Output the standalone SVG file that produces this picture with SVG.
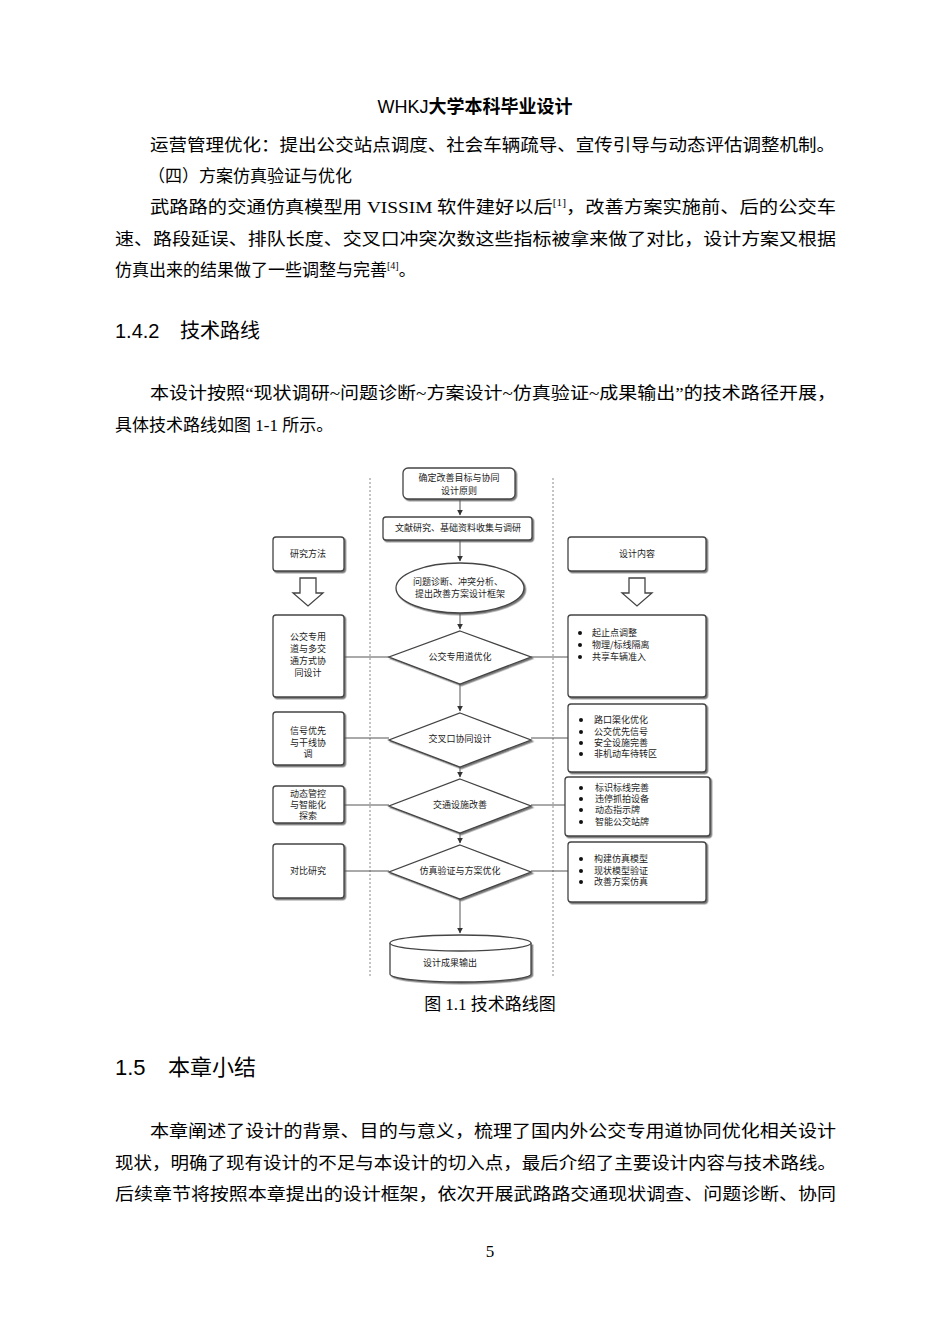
<svg xmlns="http://www.w3.org/2000/svg" width="950" height="1344" viewBox="0 0 950 1344">
<style>
.b{font-family:"Liberation Serif","Noto Sans CJK SC",serif;font-size:17px;fill:#000}
.h{font-family:"Liberation Sans","Noto Sans CJK SC",sans-serif;fill:#000}
.n{fill:#fff;stroke:#444;stroke-width:1.3}
.t{font-family:"Noto Sans CJK SC",sans-serif;font-size:9px;fill:#222;text-anchor:middle}
.tl{font-family:"Noto Sans CJK SC",sans-serif;font-size:9px;fill:#222}
.c{stroke:#555;stroke-width:1;fill:none}
.d{stroke:#888;stroke-width:1;stroke-dasharray:2,2;fill:none}
</style>
<defs>
<marker id="a" viewBox="0 0 10 10" refX="9" refY="5" markerWidth="6" markerHeight="6" orient="auto"><path d="M0,0L10,5L0,10z" fill="#333"/></marker>
<filter id="s" x="-10%" y="-10%" width="130%" height="140%"><feDropShadow dx="1.5" dy="1.5" stdDeviation="0.6" flood-color="#555" flood-opacity="0.8"/></filter>
</defs>
<rect width="950" height="1344" fill="#fff"/>
<text x="475" y="113" text-anchor="middle" class="h" style="font-family:'Liberation Sans Narrow','Liberation Sans','Noto Sans CJK SC',sans-serif;font-size:18px">WHKJ<tspan style="font-family:'Noto Sans CJK SC';font-weight:bold">大学本科毕业设计</tspan></text>
<text class="b" x="150" y="151" textLength="685" lengthAdjust="spacingAndGlyphs">运营管理优化：提出公交站点调度、社会车辆疏导、宣传引导与动态评估调整机制。</text>
<text class="b" x="148" y="182">（四）方案仿真验证与优化</text>
<text class="b" x="150" y="213" textLength="686" lengthAdjust="spacingAndGlyphs">武路路的交通仿真模型用 VISSIM 软件建好以后<tspan font-size="10" dy="-7">[1]</tspan><tspan dy="7">，改善方案实施前、后的公交车</tspan></text>
<text class="b" x="115" y="245" textLength="721" lengthAdjust="spacingAndGlyphs">速、路段延误、排队长度、交叉口冲突次数这些指标被拿来做了对比，设计方案又根据</text>
<text class="b" x="115" y="276">仿真出来的结果做了一些调整与完善<tspan font-size="10" dy="-7">[4]</tspan><tspan dy="7">。</tspan></text>
<text class="h" x="115" y="338" font-size="20">1.4.2<tspan x="180">技术路线</tspan></text>
<text class="b" x="150" y="399" textLength="686" lengthAdjust="spacingAndGlyphs">本设计按照“现状调研~问题诊断~方案设计~仿真验证~成果输出”的技术路径开展，</text>
<text class="b" x="115" y="431">具体技术路线如图 1-1 所示。</text>

<g id="connectors">
<path class="d" d="M370 478V978M553 478V978"/>
<path class="c" d="M460 499V515" marker-end="url(#a)"/>
<path class="c" d="M460 540V561" marker-end="url(#a)"/>
<path class="c" d="M460 613V629" marker-end="url(#a)"/>
<path class="c" d="M460 684V711" marker-end="url(#a)"/>
<path class="c" d="M460 767V777" marker-end="url(#a)"/>
<path class="c" d="M460 833V843" marker-end="url(#a)"/>
<path class="c" d="M460 899V933" marker-end="url(#a)"/>
<path class="c" d="M344 657H389M531 657H568M344 738H389M531 738H568M344 805H389M531 805H565M344 871H389M531 871H568"/>
</g>
<g id="n1"><rect class="n" filter="url(#s)" x="403" y="468" width="112" height="31" rx="5"/><text class="t" x="459" y="481">确定改善目标与协同</text><text class="t" x="459" y="494">设计原则</text></g>
<g id="n2"><rect class="n" filter="url(#s)" x="383" y="517" width="149" height="23" rx="3"/><text class="t" x="458" y="531">文献研究、基础资料收集与调研</text></g>
<g id="n3"><ellipse class="n" filter="url(#s)" cx="460" cy="588" rx="64" ry="25"/><text class="t" x="458" y="585">问题诊断、冲突分析、</text><text class="t" x="460" y="597">提出改善方案设计框架</text></g>
<g id="n4"><path class="n" filter="url(#s)" d="M460 631L531 657L460 684L389 657z"/><text class="t" x="460" y="660">公交专用道优化</text></g>
<g id="n5"><path class="n" filter="url(#s)" d="M460 713L531 740L460 767L389 740z"/><text class="t" x="460" y="742">交叉口协同设计</text></g>
<g id="n6"><path class="n" filter="url(#s)" d="M460 779L531 806L460 833L389 806z"/><text class="t" x="460" y="808">交通设施改善</text></g>
<g id="n7"><path class="n" filter="url(#s)" d="M460 845L531 872L460 899L389 872z"/><text class="t" x="460" y="874">仿真验证与方案优化</text></g>
<g id="n8"><path class="n" filter="url(#s)" d="M390 943V974A70.5 8 0 0 0 531 974V943" /><ellipse class="n" cx="460.5" cy="943" rx="70.5" ry="8"/><text class="t" x="450" y="966">设计成果输出</text></g>
<g id="l1"><rect class="n" filter="url(#s)" x="273" y="537" width="71" height="34" rx="3"/><text class="t" x="308" y="557">研究方法</text></g>
<g id="la"><path class="n" d="M300 578H316V593H323L308 606L293 593H300z"/></g>
<g id="l2"><rect class="n" filter="url(#s)" x="273" y="615" width="71" height="82" rx="3"/><text class="t" x="308" y="640">公交专用</text><text class="t" x="308" y="652">道与多交</text><text class="t" x="308" y="664">通方式协</text><text class="t" x="308" y="676">同设计</text></g>
<g id="l3"><rect class="n" filter="url(#s)" x="273" y="712" width="71" height="53" rx="3"/><text class="t" x="308" y="734">信号优先</text><text class="t" x="308" y="746">与干线协</text><text class="t" x="308" y="757">调</text></g>
<g id="l4"><rect class="n" filter="url(#s)" x="273" y="786" width="71" height="37" rx="3"/><text class="t" x="308" y="797">动态管控</text><text class="t" x="308" y="808">与智能化</text><text class="t" x="308" y="819">探索</text></g>
<g id="l5"><rect class="n" filter="url(#s)" x="273" y="844" width="71" height="54" rx="3"/><text class="t" x="308" y="874">对比研究</text></g>
<g id="r1"><rect class="n" filter="url(#s)" x="568" y="537" width="138" height="34" rx="3"/><text class="t" x="637" y="557">设计内容</text></g>
<g id="ra"><path class="n" d="M629 578H645V593H652L637 606L622 593H629z"/></g>
<g id="r2"><rect class="n" filter="url(#s)" x="568" y="615" width="138" height="82" rx="3"/><g class="tl"><text x="592" y="636">起止点调整</text><text x="592" y="648">物理/标线隔离</text><text x="592" y="660">共享车辆准入</text></g><g fill="#111"><circle cx="580" cy="633" r="2"/><circle cx="580" cy="645" r="2"/><circle cx="580" cy="657" r="2"/></g></g>
<g id="r3"><rect class="n" filter="url(#s)" x="568" y="704" width="138" height="68" rx="3"/><g class="tl"><text x="594" y="723">路口渠化优化</text><text x="594" y="735">公交优先信号</text><text x="594" y="746">安全设施完善</text><text x="594" y="757">非机动车待转区</text></g><g fill="#111"><circle cx="581" cy="720" r="2"/><circle cx="581" cy="732" r="2"/><circle cx="581" cy="743" r="2"/><circle cx="581" cy="754" r="2"/></g></g>
<g id="r4"><rect class="n" filter="url(#s)" x="565" y="777" width="145" height="59" rx="3"/><g class="tl"><text x="595" y="791">标识标线完善</text><text x="595" y="802">违停抓拍设备</text><text x="595" y="813">动态指示牌</text><text x="595" y="825">智能公交站牌</text></g><g fill="#111"><circle cx="581" cy="788" r="2"/><circle cx="581" cy="799" r="2"/><circle cx="581" cy="810" r="2"/><circle cx="581" cy="822" r="2"/></g></g>
<g id="r5"><rect class="n" filter="url(#s)" x="568" y="842" width="138" height="60" rx="3"/><g class="tl"><text x="594" y="862">构建仿真模型</text><text x="594" y="874">现状模型验证</text><text x="594" y="885">改善方案仿真</text></g><g fill="#111"><circle cx="581" cy="859" r="2"/><circle cx="581" cy="871" r="2"/><circle cx="581" cy="882" r="2"/></g></g>

<text class="b" x="490" y="1010" text-anchor="middle" font-size="15">图 1.1  技术路线图</text>
<text class="h" x="115" y="1075" font-size="22">1.5<tspan x="168">本章小结</tspan></text>
<text class="b" x="150" y="1137" textLength="686" lengthAdjust="spacingAndGlyphs">本章阐述了设计的背景、目的与意义，梳理了国内外公交专用道协同优化相关设计</text>
<text class="b" x="115" y="1169" textLength="721" lengthAdjust="spacingAndGlyphs">现状，明确了现有设计的不足与本设计的切入点，最后介绍了主要设计内容与技术路线。</text>
<text class="b" x="115" y="1200" textLength="721" lengthAdjust="spacingAndGlyphs">后续章节将按照本章提出的设计框架，依次开展武路路交通现状调查、问题诊断、协同</text>
<text class="b" x="490" y="1257" text-anchor="middle" font-size="12">5</text>
</svg>
